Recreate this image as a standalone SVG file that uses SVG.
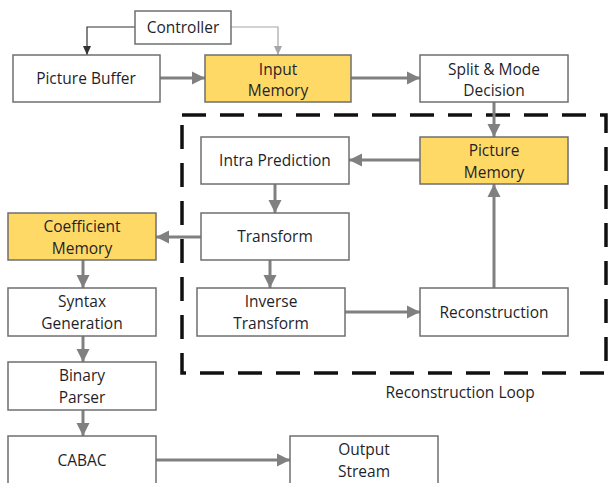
<svg xmlns="http://www.w3.org/2000/svg" width="608" height="483" viewBox="0 0 608 483">
  <style>
    .box { fill: #ffffff; stroke: #6f6f6f; stroke-width: 1.5; }
    .mem { fill: #ffd966; stroke: #6f6f6f; stroke-width: 1.5; }
    text { font-family: "Open Sans", "Liberation Sans", sans-serif; font-size: 15.5px; fill: #1f1f2a; text-anchor: middle; }
    .flow { fill: none; stroke: #808080; stroke-width: 3; marker-end: url(#head); }
    .ctl-dark { fill: none; stroke: #333333; stroke-width: 1.2; marker-end: url(#headDark); }
    .ctl-light { fill: none; stroke: #a6a6a6; stroke-width: 1.2; marker-end: url(#headLight); }
    .loop { fill: none; stroke: #111111; stroke-width: 3.5; stroke-dasharray: 24 14; }
  </style>
  <defs>
    <marker id="head" markerUnits="userSpaceOnUse" markerWidth="14" markerHeight="14" refX="13" refY="7" orient="auto">
      <path d="M0,0.5 L13,7 L0,13.5 Z" fill="#808080"/>
    </marker>
    <marker id="headDark" markerUnits="userSpaceOnUse" markerWidth="10" markerHeight="10" refX="9" refY="5" orient="auto">
      <path d="M0,1 L9,5 L0,9 Z" fill="#333333"/>
    </marker>
    <marker id="headLight" markerUnits="userSpaceOnUse" markerWidth="10" markerHeight="10" refX="9" refY="5" orient="auto">
      <path d="M0,1 L9,5 L0,9 Z" fill="#a6a6a6"/>
    </marker>
  </defs>

  <!-- reconstruction loop boundary -->
  <g id="reconstruction-loop">
    <rect class="loop" x="182" y="115" width="424" height="258"/>
    <text x="460" y="398">Reconstruction Loop</text>
  </g>

  <!-- connectors -->
  <g id="connectors">
    <polyline class="ctl-dark" points="135,27 87,27 87,55"/>
    <polyline class="ctl-light" points="231,27 278,27 278,55"/>
    <line class="flow" x1="160" y1="78" x2="205" y2="78"/>
    <line class="flow" x1="351" y1="78" x2="420" y2="78"/>
    <line class="flow" x1="494" y1="102" x2="494" y2="137"/>
    <line class="flow" x1="420" y1="160" x2="349" y2="160"/>
    <line class="flow" x1="275" y1="184" x2="275" y2="213"/>
    <line class="flow" x1="201" y1="237" x2="156" y2="237"/>
    <line class="flow" x1="270" y1="260" x2="270" y2="288"/>
    <line class="flow" x1="345" y1="312" x2="420" y2="312"/>
    <line class="flow" x1="494" y1="288" x2="494" y2="184"/>
    <line class="flow" x1="83" y1="260" x2="83" y2="288"/>
    <line class="flow" x1="83" y1="336" x2="83" y2="362"/>
    <line class="flow" x1="83" y1="410" x2="83" y2="436"/>
    <line class="flow" x1="156" y1="460" x2="290" y2="460"/>
  </g>

  <g id="controller">
    <rect class="box" x="135" y="11" width="96" height="33"/>
    <text x="183" y="33">Controller</text>
  </g>
  <g id="picture-buffer">
    <rect class="box" x="13" y="55" width="147" height="47"/>
    <text x="86" y="84">Picture Buffer</text>
  </g>
  <g id="input-memory">
    <rect class="mem" x="205" y="55" width="146" height="47"/>
    <text x="278" y="75">Input</text>
    <text x="278" y="96">Memory</text>
  </g>
  <g id="split-mode-decision">
    <rect class="box" x="420" y="55" width="148" height="47"/>
    <text x="494" y="75">Split &amp; Mode</text>
    <text x="494" y="96">Decision</text>
  </g>
  <g id="picture-memory">
    <rect class="mem" x="420" y="137" width="148" height="47"/>
    <text x="494" y="156">Picture</text>
    <text x="494" y="178">Memory</text>
  </g>
  <g id="intra-prediction">
    <rect class="box" x="201" y="137" width="148" height="47"/>
    <text x="275" y="166">Intra Prediction</text>
  </g>
  <g id="transform">
    <rect class="box" x="201" y="213" width="148" height="47"/>
    <text x="275" y="242">Transform</text>
  </g>
  <g id="coefficient-memory">
    <rect class="mem" x="8" y="213" width="148" height="47"/>
    <text x="82" y="232">Coefficient</text>
    <text x="82" y="254">Memory</text>
  </g>
  <g id="syntax-generation">
    <rect class="box" x="8" y="288" width="148" height="48"/>
    <text x="82" y="307">Syntax</text>
    <text x="82" y="329">Generation</text>
  </g>
  <g id="inverse-transform">
    <rect class="box" x="197" y="288" width="148" height="48"/>
    <text x="271" y="307">Inverse</text>
    <text x="271" y="329">Transform</text>
  </g>
  <g id="reconstruction">
    <rect class="box" x="420" y="288" width="148" height="48"/>
    <text x="494" y="318">Reconstruction</text>
  </g>
  <g id="binary-parser">
    <rect class="box" x="8" y="362" width="148" height="48"/>
    <text x="82" y="381">Binary</text>
    <text x="82" y="403">Parser</text>
  </g>
  <g id="cabac">
    <rect class="box" x="8" y="436" width="148" height="60"/>
    <text x="82" y="466">CABAC</text>
  </g>
  <g id="output-stream">
    <rect class="box" x="290" y="436" width="148" height="60"/>
    <text x="364" y="455">Output</text>
    <text x="364" y="477">Stream</text>
  </g>
</svg>
